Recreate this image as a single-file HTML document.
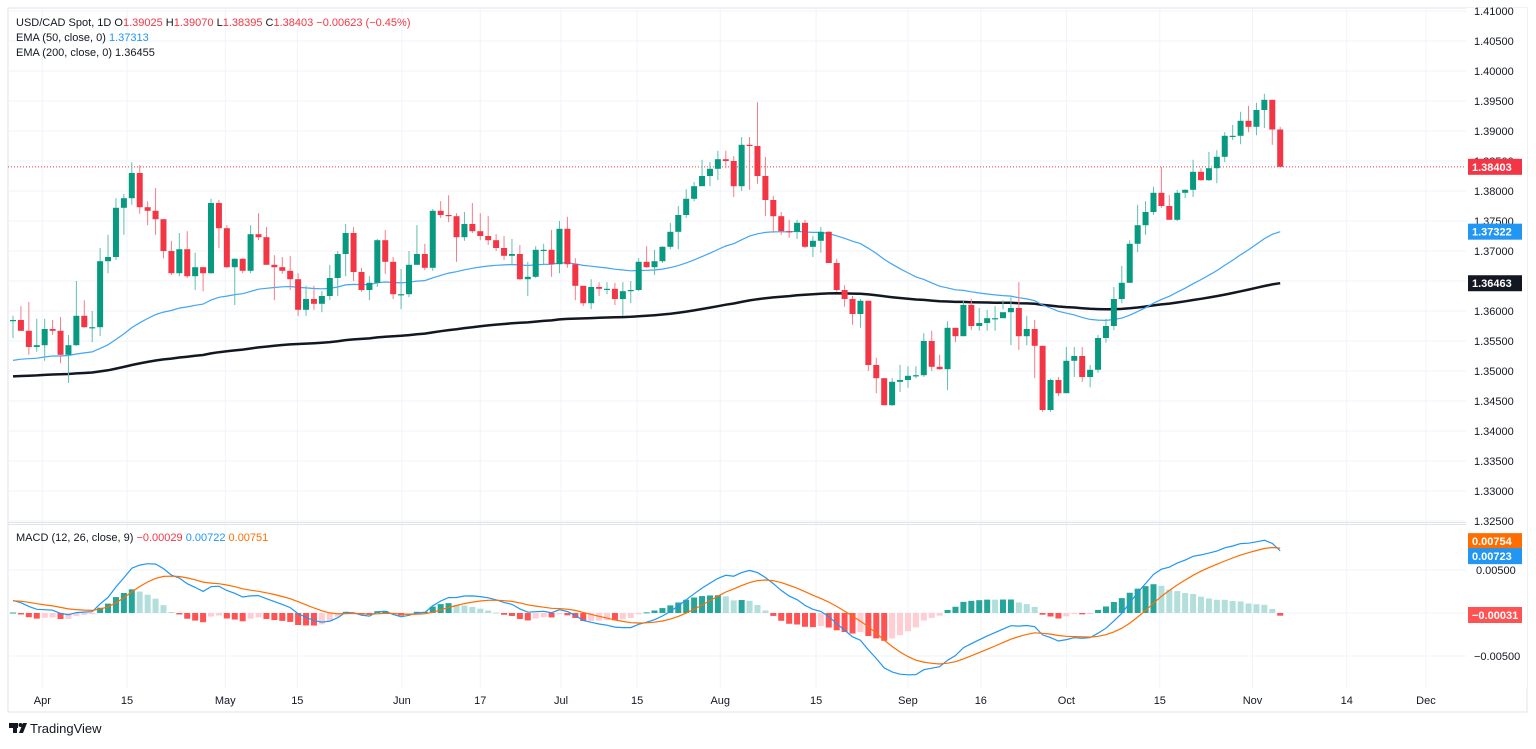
<!DOCTYPE html>
<html><head><meta charset="utf-8">
<style>
html,body{margin:0;padding:0;background:#fff;}
body{width:1536px;height:744px;overflow:hidden;font-family:"Liberation Sans",sans-serif;}
svg text{font-family:"Liberation Sans",sans-serif;}
</style></head>
<body>
<svg id="chart" width="1536" height="744" xmlns="http://www.w3.org/2000/svg">
<rect x="0" y="0" width="1536" height="744" fill="#ffffff"/>
<rect x="8" y="8" width="1519" height="704" fill="none" stroke="#e0e3eb"/>
<g id="grid"></g>
<g id="main"></g>
<g id="macd"></g>
<g id="axes"></g>
<g font-size="11">
 <text x="16" y="26" fill="#131722">USD/CAD Spot, 1D  O<tspan fill="#f23645">1.39025</tspan>  H<tspan fill="#f23645">1.39070</tspan>  L<tspan fill="#f23645">1.38395</tspan>  C<tspan fill="#f23645">1.38403</tspan>  <tspan fill="#f23645">−0.00623 (−0.45%)</tspan></text>
 <text x="16" y="41" fill="#131722">EMA (50, close, 0)  <tspan fill="#2196f3">1.37313</tspan></text>
 <text x="16" y="56" fill="#131722">EMA (200, close, 0)  1.36455</text>
 <text x="16" y="541" fill="#131722">MACD (12, 26, close, 9)  <tspan fill="#f23645">−0.00029</tspan>  <tspan fill="#2196f3">0.00722</tspan>  <tspan fill="#ff6d00">0.00751</tspan></text>
</g>
<g>
 <rect x="9" y="723" width="9" height="5" fill="#131722"/><rect x="13" y="723" width="4" height="10" fill="#131722"/><circle cx="20.5" cy="725" r="2" fill="#131722"/><polygon points="23,723 27,723 23,733 19,733" fill="#131722"/>
 <text x="30" y="733" font-size="13" fill="#131722">TradingView</text>
</g>
</svg>
<script>
const opens0 = 1.3585;
const closes = [1.3585,1.3567,1.3540,1.3543,1.3570,1.3567,1.3527,1.3543,1.3592,1.3573,1.3573,1.3683,1.3690,1.3772,1.3788,1.3830,1.3773,1.3767,1.3753,1.3700,1.3663,1.3703,1.3658,1.3673,1.3663,1.3780,1.3738,1.3673,1.3687,1.3667,1.3728,
1.3723,1.3677,1.3673,1.3667,1.3653,1.3602,1.3620,1.3612,1.3625,1.3655,1.3695,1.3730,1.3665,1.3635,1.3647,1.3718,1.3682,1.3628,1.3628,1.3677,1.3695,1.3672,1.3767,1.3760,1.3758,1.3723,1.3745,1.3733,1.3725,1.3718,1.3705,1.3692,
1.3695,1.3653,1.3657,1.3702,1.3702,1.3678,1.3737,1.3678,1.3642,1.3613,1.3640,1.3637,1.3637,1.3620,1.3633,1.3635,1.3682,1.3673,1.3683,1.3707,1.3732,1.3760,1.3787,1.3808,1.3825,1.3837,1.3853,1.3850,1.3808,1.3877,1.3875,1.3825,1.3785,1.3758,
1.3733,1.3732,1.3747,1.3707,1.3717,1.3732,1.3680,1.3635,1.3620,1.3595,1.3617,1.3510,1.3488,1.3443,1.3482,1.3485,1.3492,1.3493,1.3550,1.3507,1.3503,1.3572,1.3558,1.3610,1.3575,1.3580,1.3588,1.3588,1.3598,1.3605,1.3558,1.3570,1.3542,
1.3435,1.3485,1.3463,1.3517,1.3525,1.3490,1.3502,1.3555,1.3575,1.3620,1.3647,1.3712,1.3743,1.3765,1.3797,1.3775,1.3752,1.3797,1.3802,1.3832,1.3818,1.3838,1.3857,1.3892,1.3892,1.3917,1.3907,1.3935,1.3952,1.39025,1.38403];
const highs = [1.3592,1.3608,1.3615,1.3587,1.3587,1.3585,1.3590,1.3560,1.3650,1.3618,1.3600,1.3705,1.3727,1.3788,1.3795,1.3848,1.3843,1.3783,1.3805,1.3753,1.3717,1.3730,1.3733,1.3697,1.3673,1.3787,1.3785,1.3743,1.3688,1.3688,1.3743,
1.3763,1.3740,1.3693,1.3690,1.3692,1.3663,1.3642,1.3642,1.3633,1.3677,1.3700,1.3745,1.3740,1.3672,1.3658,1.3720,1.3735,1.3690,1.3670,1.3700,1.3743,1.3712,1.3770,1.3783,1.3793,1.3763,1.3765,1.3780,1.3763,1.3758,1.3728,1.3725,
1.3720,1.3710,1.3682,1.3708,1.3712,1.3735,1.3750,1.3757,1.3688,1.3640,1.3653,1.3648,1.3648,1.3647,1.3648,1.3650,1.3688,1.3708,1.3702,1.3708,1.3747,1.3775,1.3803,1.3815,1.3852,1.3848,1.3867,1.3867,1.3858,1.3890,1.3890,1.3948,1.3857,1.3792,
1.3765,1.3752,1.3752,1.3752,1.3725,1.3740,1.3733,1.3687,1.3643,1.3625,1.3620,1.3617,1.3522,1.3488,1.3488,1.3510,1.3508,1.3508,1.3563,1.3567,1.3527,1.3583,1.3572,1.3617,1.3620,1.3605,1.3602,1.3608,1.3618,1.3623,1.3648,1.3592,1.3585,
1.3542,1.3487,1.3490,1.3540,1.3540,1.3540,1.3510,1.3560,1.3587,1.3640,1.3675,1.3718,1.3777,1.3783,1.3807,1.3840,1.3793,1.3802,1.3803,1.3852,1.3838,1.3865,1.3868,1.3898,1.3910,1.3932,1.3942,1.3947,1.3962,1.3952,1.3907];
const lows = [1.3555,1.3567,1.3527,1.3532,1.3517,1.3560,1.3513,1.3480,1.3542,1.3572,1.3548,1.3558,1.3663,1.3685,1.3727,1.3777,1.3762,1.3743,1.3727,1.3688,1.3660,1.3658,1.3655,1.3635,1.3633,1.3662,1.3705,1.3672,1.3610,1.3663,1.3663,
1.3718,1.3677,1.3618,1.3662,1.3635,1.3592,1.3592,1.3602,1.3598,1.3618,1.3625,1.3658,1.3650,1.3632,1.3618,1.3640,1.3662,1.3620,1.3603,1.3623,1.3677,1.3668,1.3667,1.3755,1.3748,1.3682,1.3717,1.3730,1.3718,1.3710,1.3700,1.3685,
1.3677,1.3652,1.3625,1.3655,1.3678,1.3657,1.3663,1.3672,1.3618,1.3608,1.3603,1.3625,1.3628,1.3610,1.3592,1.3613,1.3633,1.3672,1.3660,1.3680,1.3703,1.3703,1.3755,1.3783,1.3808,1.3808,1.3818,1.3838,1.3790,1.3800,1.3802,1.3812,1.3758,1.3730,
1.3727,1.3722,1.3720,1.3705,1.3690,1.3697,1.3680,1.3632,1.3607,1.3577,1.3572,1.3500,1.3463,1.3443,1.3442,1.3465,1.3472,1.3488,1.3490,1.3500,1.3502,1.3468,1.3548,1.3558,1.3568,1.3567,1.3567,1.3567,1.3603,1.3543,1.3535,1.3543,1.3488,
1.3432,1.3432,1.3458,1.3463,1.3490,1.3482,1.3473,1.3497,1.3547,1.3568,1.3613,1.3647,1.3698,1.3727,1.3760,1.3772,1.3752,1.3750,1.3788,1.3790,1.3817,1.3817,1.3813,1.3848,1.3885,1.3878,1.3898,1.3893,1.3905,1.3877,1.38395];
const priceTicks = [1.410,1.405,1.400,1.395,1.390,1.385,1.380,1.375,1.370,1.365,1.360,1.355,1.350,1.345,1.340,1.335,1.330,1.325];
const macdTicks = [0.005,0,-0.005];
const timeLabels = ["Apr","15","May","15","Jun","17","Jul","15","Aug","15","Sep","16","Oct","15","Nov","14","Dec"];
const timeIndex = [3.7,14.4,26.8,35.9,49.1,59,69.2,78.8,89.3,101.4,113,122.2,133,144.8,156.5,168.4,178.4];
const emaSeeds = [1.3515,1.3490];      // EMA50, EMA200 values before first visible bar
const macdSeeds = [1.3587,1.3571,0.0014]; // EMA12, EMA26, signal before first bar

const NS="http://www.w3.org/2000/svg";
function mk(tag,attrs,parent){const e=document.createElementNS(NS,tag);for(const k in attrs)e.setAttribute(k,attrs[k]);parent.appendChild(e);return e;}
const X=i=>13+i*7.92;
const Y=p=>11+(1.41-p)*6000;
const YM=v=>613-v*8600;
const grid=document.getElementById('grid'),main=document.getElementById('main'),mg=document.getElementById('macd'),axes=document.getElementById('axes');

priceTicks.forEach(p=>{const l=mk('line',{x1:8,x2:1466,y1:Y(p),y2:Y(p),stroke:'#f0f3fa'},grid);});
macdTicks.forEach(v=>{const l=mk('line',{x1:8,x2:1466,y1:YM(v),y2:YM(v),stroke:'#f0f3fa'},grid);});
timeIndex.forEach(t=>{const l=mk('line',{x1:X(t),x2:X(t),y1:8,y2:688,stroke:'#f0f3fa'},grid);});
mk('line',{x1:8,x2:1527,y1:522.5,y2:522.5,stroke:'#e0e3eb'},grid);
mk('line',{x1:8,x2:1527,y1:524.5,y2:524.5,stroke:'#e0e3eb'},grid);

function ema(arr,n,seed){const a=2/(n+1);let e=seed;return arr.map(v=>(e=e+a*(v-e)));}
const e50=ema(closes,50,emaSeeds[0]),e200=ema(closes,200,emaSeeds[1]);
const e12=ema(closes,12,macdSeeds[0]),e26=ema(closes,26,macdSeeds[1]);
const macdLine=e12.map((v,i)=>v-e26[i]);
const sig=ema(macdLine,9,macdSeeds[2]);
const hist=macdLine.map((v,i)=>v-sig[i]);
const pathOf=(arr,yf)=>arr.map((v,i)=>(i?'L':'M')+X(i).toFixed(1)+' '+yf(v).toFixed(1)).join(' ');
const l200=mk('path',{d:pathOf(e200,Y),stroke:'#131722','stroke-width':2.5,fill:'none'},main);


const l50=mk('path',{d:pathOf(e50,Y),stroke:'#42a5f5','stroke-width':1.2,fill:'none'},main);



const last=closes[closes.length-1];
mk('line',{x1:8,x2:1466,y1:Y(last),y2:Y(last),stroke:'#f23645','stroke-dasharray':'1 2'},main);

closes.forEach((c,i)=>{
  const o=i?closes[i-1]:opens0;const up=c>=o;const col=up?'#089981':'#f23645';
  const g=mk('g',{},main);
  
  
  mk('line',{x1:X(i),x2:X(i),y1:Y(highs[i]),y2:Y(lows[i]),stroke:up?'#5fbfae':'#f77c86','stroke-width':1},g);
  const top=Math.min(Y(o),Y(c));const h=Math.max(1.2,Math.abs(Y(o)-Y(c)));
  mk('rect',{x:X(i)-3,y:top,width:6,height:h,fill:col},g);
});

hist.forEach((v,i)=>{
  const prev=i?hist[i-1]:v;let col;
  if(v>=0)col=v>=prev?'#26a69a':'#b2dfdb';else col=v<prev?'#ff5252':'#ffcdd2';
  const r=mk('rect',{x:X(i)-3,y:Math.min(YM(v),YM(0)),width:6,height:Math.max(1,Math.abs(YM(v)-YM(0))),fill:col},mg);
  
  
});
const ml=mk('path',{d:pathOf(macdLine,YM),stroke:'#2196f3','stroke-width':1.2,fill:'none'},mg);


const sl=mk('path',{d:pathOf(sig,YM),stroke:'#ff6d00','stroke-width':1.2,fill:'none'},mg);



mk('rect',{x:1466,y:8,width:61,height:680,fill:'#fff'},axes);
priceTicks.forEach(p=>{const t=mk('text',{x:1474,y:Y(p)+4,'font-size':11,fill:'#131722'},axes);t.textContent=p.toFixed(5);});
macdTicks.filter(v=>v!==0).forEach(v=>{const t=mk('text',{x:v<0?1474:1476,y:YM(v)+4,'font-size':11,fill:'#131722'},axes);t.textContent=(v<0?'−':'')+Math.abs(v).toFixed(5);});
timeLabels.forEach((s,k)=>{const t=mk('text',{x:X(timeIndex[k]),y:704,'font-size':11,fill:'#131722','text-anchor':'middle'},axes);t.textContent=s;});
function badge(val,yv,bg,name){const g=mk('g',{},axes);mk('rect',{x:1468,y:yv-8,width:54,height:16,fill:bg},g);const t=mk('text',{x:1472,y:yv+4,'font-size':11,'font-weight':'bold',fill:'#fff'},g);t.textContent=val;}
badge(last.toFixed(5),Y(last),'#f23645','last-price-badge');
badge(e50[e50.length-1].toFixed(5),Y(e50[e50.length-1]),'#2196f3','ema50-badge');
badge(e200[e200.length-1].toFixed(5),Y(e200[e200.length-1]),'#131722','ema200-badge');
const h=hist[hist.length-1],m=macdLine[macdLine.length-1],s=sig[sig.length-1];
badge(s.toFixed(5),Math.min(YM(s),YM(m))-7,'#ff6d00','signal-badge');
badge(m.toFixed(5),Math.min(YM(s),YM(m))+8,'#2196f3','macd-badge');
badge((h<0?'−':'')+Math.abs(h).toFixed(5),YM(0)+2,'#ff5252','histogram-badge');
</script>
</body></html>
